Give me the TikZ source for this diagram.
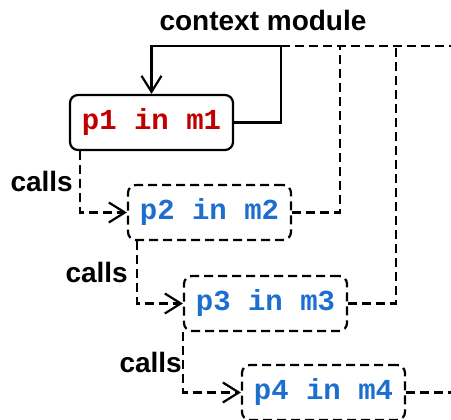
\documentclass[tikz,border=0pt]{standalone}
\usepackage{fontspec}
\setmainfont{Liberation Sans}
\newfontfamily\codefont{Liberation Mono}
\usetikzlibrary{positioning}
\usetikzlibrary{calc}
\usetikzlibrary{arrows.meta}
\definecolor{caller colour}{HTML}{C00000}
\definecolor{callee colour}{HTML}{1C6FCE}
\tikzset{
    % Open arrow heads throughout
    >={Straight Barb[length=16pt, width=20pt]},
%
    % Lines
    link/.style={draw, line width=2.2pt},
    call/.style={link, dash pattern=on 9pt off 5pt},
%
    % Procedure frames
    frame/.style={
        draw, rectangle, rounded corners=8pt, line width=2.2pt,
        minimum width=163pt, minimum height=55pt, inner sep=0pt,
        font=\codefont\bfseries\fontsize{29}{29}\selectfont},
    active frame/.style={frame, text=caller colour},
    pending frame/.style={frame, call, text=callee colour},
    tag/.style={font=\bfseries\fontsize{28}{28}\selectfont, inner sep=0pt},
}

\begin{document}
\begin{tikzpicture}[x=1pt, y=1pt]
    \useasboundingbox (0,0) rectangle (451,420);

    \path
        (151.5,297.5) node [active frame] (p1) {p1 in m1}
        ++(58,-90) node [pending frame] (p2) {p2 in m2}
        ++(56,-91) node [pending frame] (p3) {p3 in m3}
        ++(58,-89) node [pending frame] (p4) {p4 in m4};

    \node [tag] (ctx label) at (263,400) {context module};
    \coordinate (ctx) at (281,374);
    \coordinate (ctx end) at (451,374);

    \draw [link, ->] (p1.east) -| (ctx) -| (p1.north);
    \draw [call] (ctx) -- (ctx end);
    \draw [call] (p2.east) -- ++(48,0) coordinate (r2) -- (r2 |- ctx);
    \draw [call] (p3.east) -- ++(48,0) coordinate (r3) -- (r3 |- ctx);
    \draw [call] (p4.east) -- ++(46,0);

    \draw [call, ->] ([xshift=11pt]p1.south west) |- (p2.west)
        node [tag, pos=0.25, left=6pt] (calls 1) {calls};
    \draw [call, ->] ([xshift=10pt]p2.south west) |- (p3.west)
        node [tag, pos=0.25, left=8pt] (calls 2) {calls};
    \draw [call, ->] (p3.south west) |- (p4.west)
        node [tag, pos=0.25, left=0pt] (calls 3) {calls};
\end{tikzpicture}
\end{document}
